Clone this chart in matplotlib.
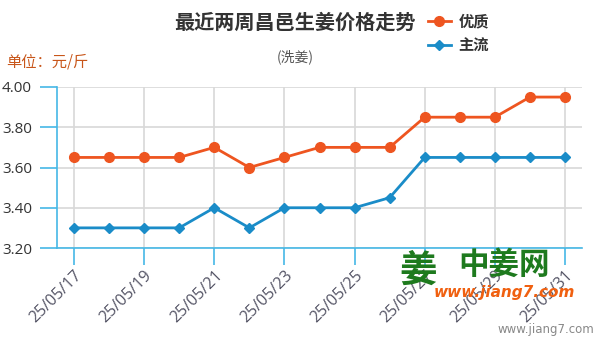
import matplotlib
matplotlib.use("Agg")
import matplotlib.pyplot as plt

plt.rcParams['font.family'] = ['Noto Sans CJK SC', 'DejaVu Sans']

# 日期与价格（元/斤）
dates = ["25/05/17", "25/05/18", "25/05/19", "25/05/20", "25/05/21",
         "25/05/22", "25/05/23", "25/05/24", "25/05/25", "25/05/26",
         "25/05/27", "25/05/28", "25/05/29", "25/05/30", "25/05/31"]
youzhi = [3.65, 3.65, 3.65, 3.65, 3.70, 3.60, 3.65, 3.70, 3.70, 3.70,
          3.85, 3.85, 3.85, 3.95, 3.95]
zhuliu = [3.30, 3.30, 3.30, 3.30, 3.40, 3.30, 3.40, 3.40, 3.40, 3.45,
          3.65, 3.65, 3.65, 3.65, 3.65]
yticks = [3.20, 3.40, 3.60, 3.80, 4.00]

orange = "#ee5520"
blue = "#1a8cc8"
axcol = "#45b8e6"
gridcol = "#d8d8d8"

fig = plt.figure(figsize=(6, 3.4), dpi=100)
ax = fig.add_axes([57 / 600, 1 - 248 / 340, (582 - 57) / 600, (248 - 87) / 340])

x = list(range(len(dates)))
ax.plot(x, youzhi, color=orange, lw=2, marker="o", ms=7, label="优质", zorder=3)
ax.plot(x, zhuliu, color=blue, lw=2, marker="D", ms=5.5, label="主流", zorder=3)

ax.set_xlim(-0.485, 14.485)
ax.set_ylim(3.2, 4.0)
ax.set_yticks(yticks)
ax.set_yticklabels(["%.2f" % v for v in yticks])
ax.set_xticks(x[::2])
ax.set_xticklabels(dates[::2], rotation=45, ha="right", rotation_mode="anchor",
                   family=["Open Sans", "DejaVu Sans"])

ax.grid(True, color=gridcol, lw=1.2)
ax.set_axisbelow(True)
for s in ["top", "right"]:
    ax.spines[s].set_visible(False)
ax.spines["left"].set_color(axcol)
ax.spines["bottom"].set_color(axcol)
ax.spines["left"].set_linewidth(1.2)
ax.spines["bottom"].set_linewidth(1.2)
ax.tick_params(axis="y", colors=axcol, length=12, width=1.2, labelcolor="#333333",
               labelsize=11, pad=6)
ax.tick_params(axis="x", colors=axcol, length=12, width=1.2, labelcolor="#555566",
               labelsize=11.5, pad=2)
for t in ax.get_yticklabels():
    t.set_family(["Open Sans", "DejaVu Sans"])

fig.text(0.492, 0.935, "最近两周昌邑生姜价格走势", ha="center", va="center",
         fontsize=14.5, fontweight="bold", color="#333333")
fig.text(0.492, 0.832, "(洗姜)", ha="center", va="center", fontsize=10, color="#555555")
fig.text(0.01, 0.818, "单位：元/斤", ha="left", va="center", fontsize=11, color="#c8561a")

leg = ax.legend(loc="upper left", bbox_to_anchor=(0.68, 1.545), frameon=False,
                prop={"weight": "bold", "size": 11}, handlelength=1.5,
                handletextpad=0.5, labelspacing=0.55)
for t in leg.get_texts():
    t.set_color("#333333")

# 水印
fig.text(0.697, 0.205, "姜", ha="center", va="center", fontsize=27,
         fontweight="bold", color="#1e7a1e")
fig.text(0.84, 0.22, "中姜网", ha="center", va="center", fontsize=22,
         fontweight="bold", color="#1e7a1e")
fig.text(0.84, 0.14, "www.jiang7.com", ha="center", va="center", fontsize=11,
         fontweight="bold", fontstyle="italic", color="#f06010", family="DejaVu Sans")
fig.text(0.99, 0.032, "www.jiang7.com", ha="right", va="center", fontsize=8.5,
         color="#888888", family="DejaVu Sans")

fig.savefig("out.png", dpi=100)
